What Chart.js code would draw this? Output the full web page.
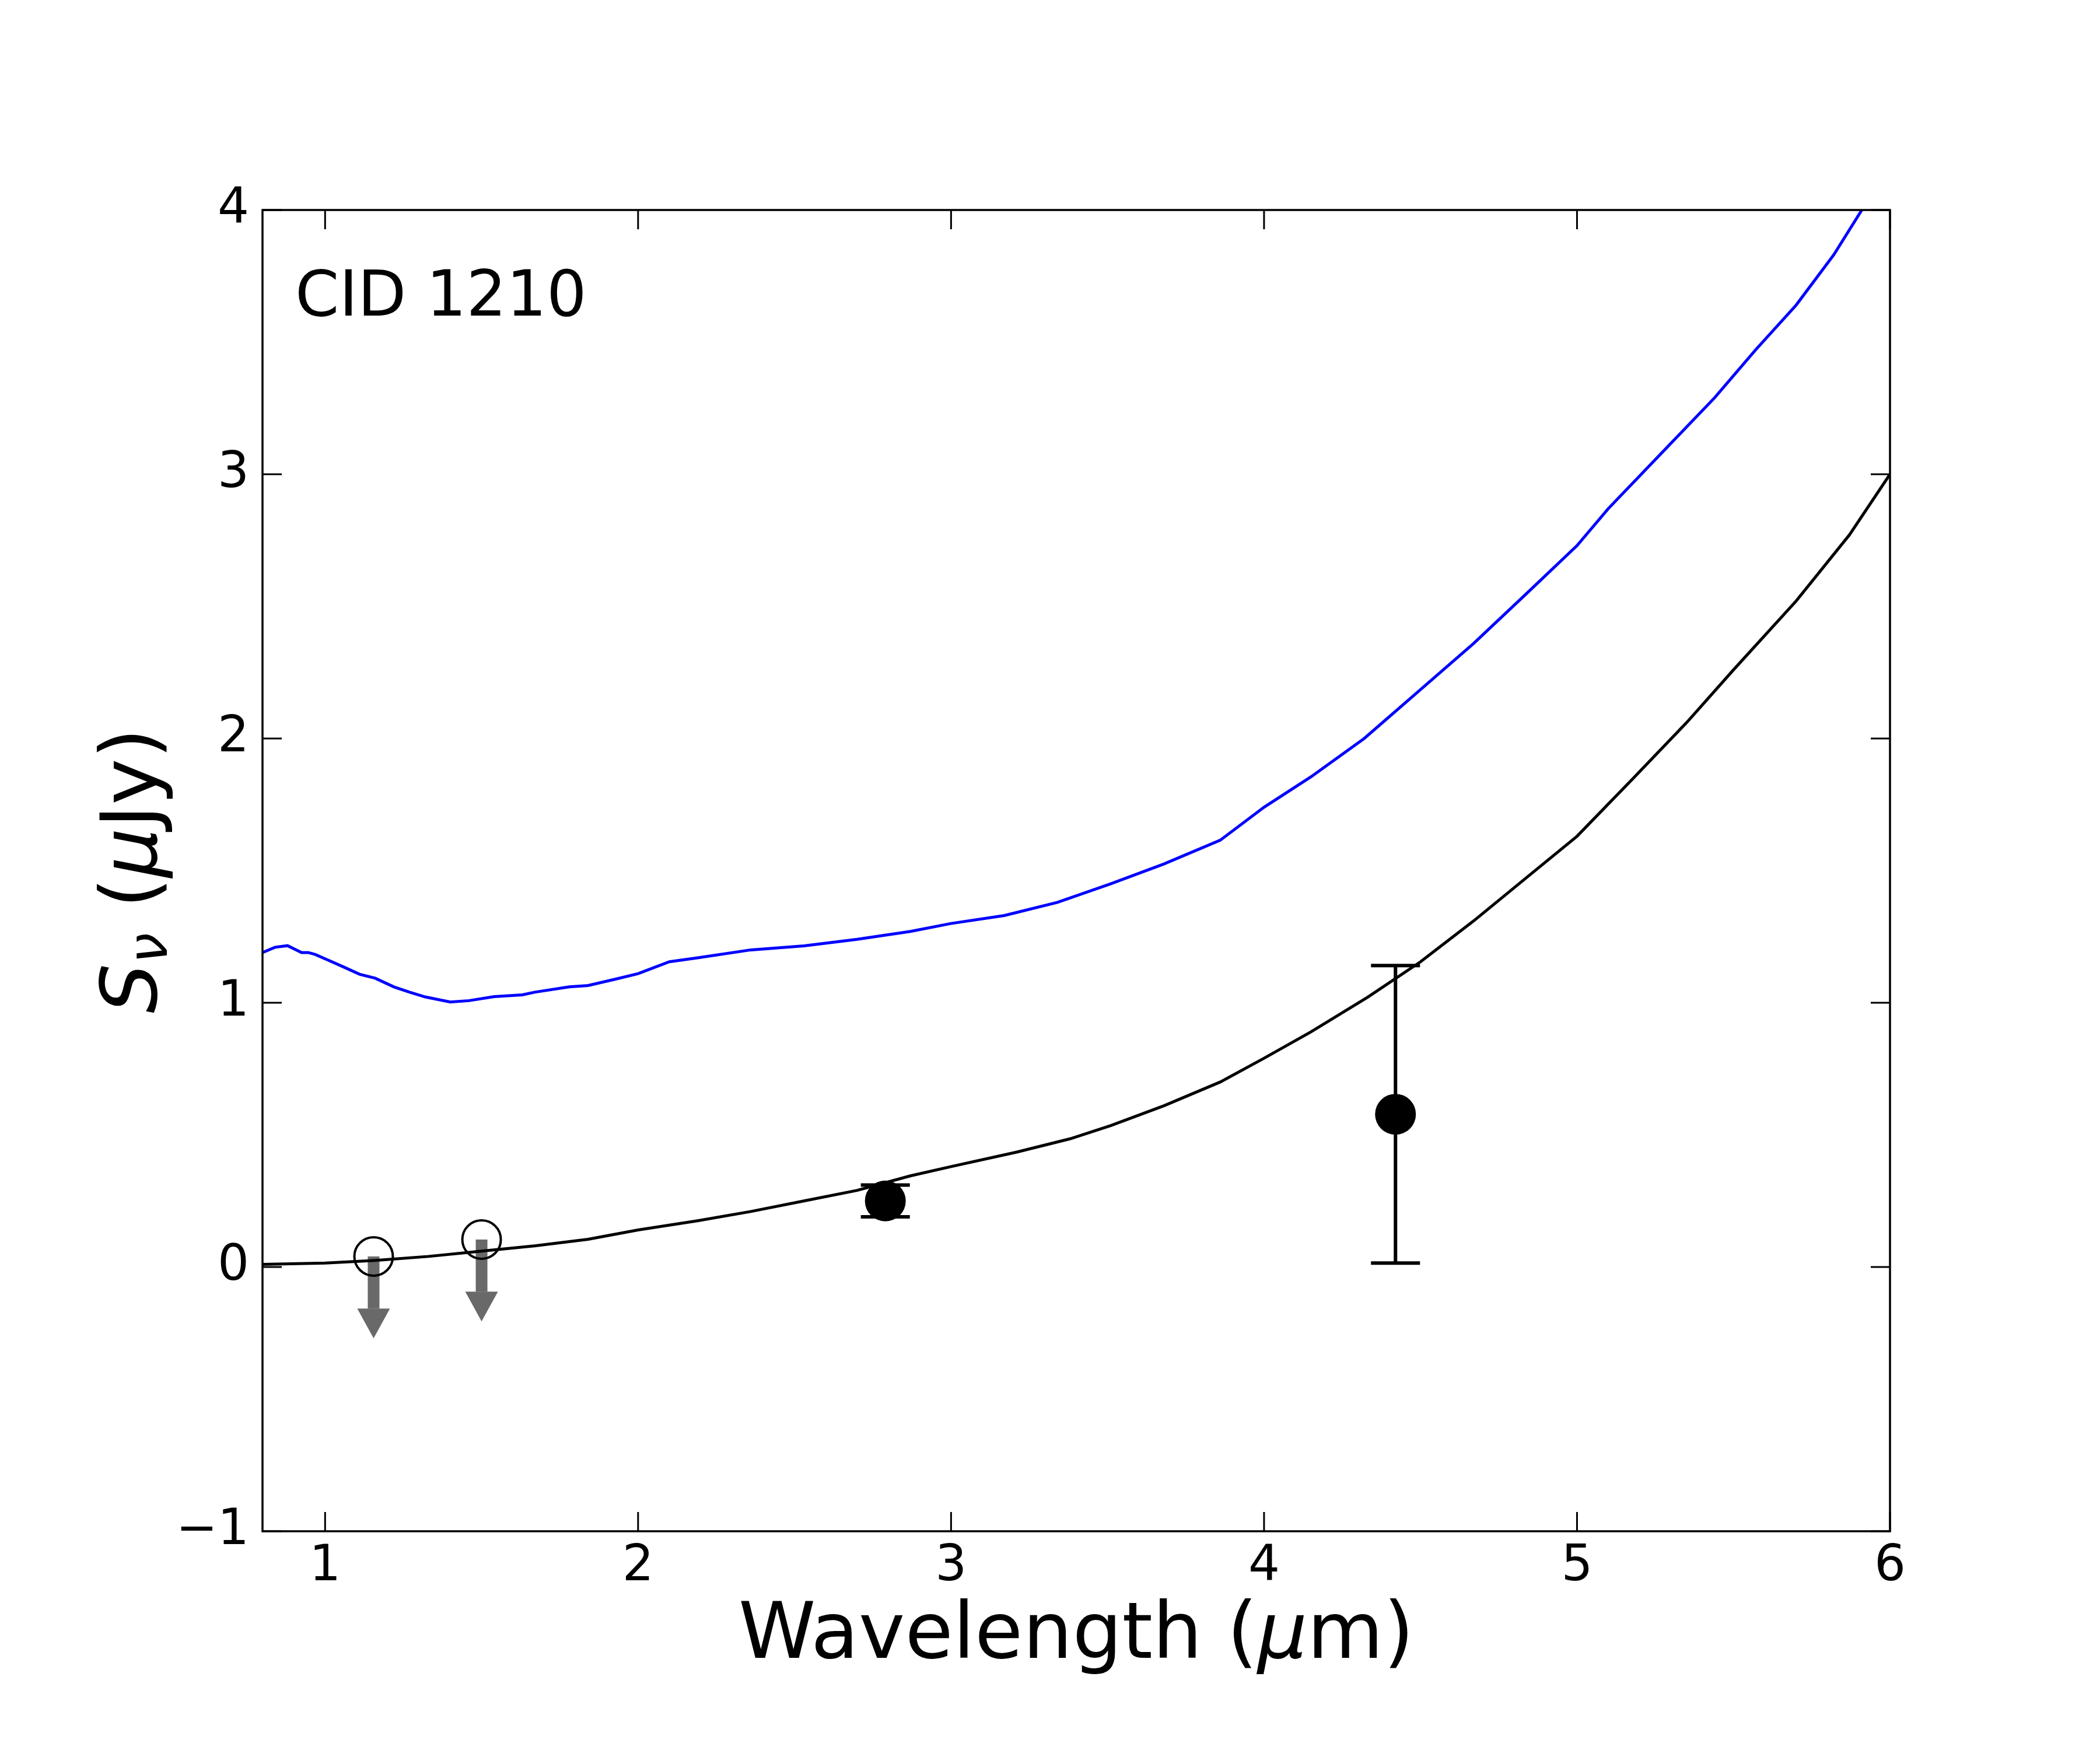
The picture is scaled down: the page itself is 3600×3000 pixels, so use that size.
<!DOCTYPE html>
<html>
<head>
<meta charset="utf-8">
<script src="https://cdn.jsdelivr.net/npm/chart.js@4.4.0/dist/chart.umd.min.js"></script>
<style>
  body { margin: 0; background: #fff; }
  canvas { display: block; }
</style>
</head>
<body>
<canvas id="sedChart" width="3600" height="3000"></canvas>
<script>
// model curves (wavelength in micron, flux in microJy)
var blueWave = [0.80, 0.84, 0.88, 0.925, 0.946, 0.968, 1.01, 1.06, 1.11, 1.16, 1.22, 1.27, 1.32, 1.40, 1.46,
  1.54, 1.63, 1.67, 1.78, 1.84, 1.93, 2.0, 2.10, 2.19, 2.36, 2.53, 2.70, 2.87, 3.0, 3.17, 3.34, 3.51, 3.68,
  3.86, 4.0, 4.15, 4.32, 4.50, 4.67, 4.84, 5.0, 5.10, 5.27, 5.44, 5.57, 5.70, 5.82, 5.91, 6.0];
var blueFlux = [1.19, 1.21, 1.216, 1.19, 1.19, 1.183, 1.161, 1.135, 1.108, 1.093, 1.06, 1.04, 1.022, 1.003, 1.008,
  1.023, 1.03, 1.04, 1.06, 1.065, 1.09, 1.11, 1.155, 1.17, 1.20, 1.215, 1.24, 1.27, 1.30, 1.33, 1.38, 1.45, 1.525,
  1.615, 1.74, 1.855, 2.0, 2.185, 2.36, 2.55, 2.73, 2.87, 3.08, 3.29, 3.47, 3.64, 3.83, 4.0, 4.15];

var blackWave = [0.80, 1.0, 1.16, 1.33, 1.5, 1.67, 1.84, 2.0, 2.19, 2.36, 2.53, 2.70, 2.87, 3.0, 3.21, 3.38,
  3.51, 3.68, 3.86, 4.0, 4.15, 4.33, 4.50, 4.67, 4.84, 5.0, 5.18, 5.35, 5.5, 5.70, 5.87, 6.0];
var blackFlux = [0.01, 0.015, 0.025, 0.04, 0.06, 0.08, 0.105, 0.14, 0.175, 0.21, 0.25, 0.29, 0.345, 0.38, 0.435, 0.485,
  0.535, 0.61, 0.70, 0.79, 0.89, 1.02, 1.155, 1.31, 1.475, 1.63, 1.85, 2.06, 2.26, 2.52, 2.77, 3.0];

// photometry
var detWave = [2.79, 4.42];
var detFlux = [0.25, 0.578];
var detErr = [0.06, 0.563];

var limWave = [1.155, 1.50];
var limFlux = [0.04, 0.104];
var limArrow = 0.31; // arrow length, data units

var xTicks = [1, 2, 3, 4, 5, 6];
var yTicks = [-1, 0, 1, 2, 3, 4];

function pairs(xs, ys) {
  return xs.map(function (x, i) { return { x: x, y: ys[i] }; });
}

var FONT = "'DejaVu Sans', sans-serif";

// draw a run of text pieces with mixed fonts, centred on 0
function drawPieces(ctx, pieces) {
  var total = 0;
  pieces.forEach(function (p) { ctx.font = p.font; p.w = ctx.measureText(p.t).width; total += p.w; });
  var x = -total / 2;
  pieces.forEach(function (p) {
    ctx.font = p.font;
    ctx.fillText(p.t, x, p.dy || 0);
    x += p.w;
  });
}

var extras = {
  id: 'extras',
  beforeDatasetsDraw: function (chart) {
    var ctx = chart.ctx, xs = chart.scales.x, ys = chart.scales.y;
    // upper limit arrows
    ctx.save();
    ctx.fillStyle = '#696969';
    limWave.forEach(function (w, i) {
      var px = xs.getPixelForValue(w);
      var top = ys.getPixelForValue(limFlux[i]);
      var tip = ys.getPixelForValue(limFlux[i] - limArrow);
      var headBase = tip - 51;
      ctx.fillRect(px - 10, top, 20, headBase - top);
      ctx.beginPath();
      ctx.moveTo(px - 28, headBase);
      ctx.lineTo(px + 28, headBase);
      ctx.lineTo(px, tip);
      ctx.closePath();
      ctx.fill();
    });
    ctx.restore();
  },
  afterDatasetsDraw: function (chart) {
    var ctx = chart.ctx, xs = chart.scales.x, ys = chart.scales.y;
    var a = chart.chartArea;
    ctx.save();

    // error bars
    ctx.strokeStyle = '#000';
    ctx.lineWidth = 6;
    detWave.forEach(function (w, i) {
      var px = xs.getPixelForValue(w);
      var hi = ys.getPixelForValue(detFlux[i] + detErr[i]);
      var lo = ys.getPixelForValue(detFlux[i] - detErr[i]);
      ctx.beginPath();
      ctx.moveTo(px, hi); ctx.lineTo(px, lo);
      ctx.moveTo(px - 42, hi); ctx.lineTo(px + 42, hi);
      ctx.moveTo(px - 42, lo); ctx.lineTo(px + 42, lo);
      ctx.stroke();
    });

    // frame and inward ticks on all sides
    ctx.lineWidth = 3.5;
    ctx.strokeRect(a.left, a.top, a.right - a.left, a.bottom - a.top);
    ctx.lineWidth = 3;
    ctx.beginPath();
    xs.ticks.forEach(function (t) {
      var px = xs.getPixelForValue(t.value);
      ctx.moveTo(px, a.bottom); ctx.lineTo(px, a.bottom - 33);
      ctx.moveTo(px, a.top); ctx.lineTo(px, a.top + 33);
    });
    ys.ticks.forEach(function (t) {
      var py = ys.getPixelForValue(t.value);
      ctx.moveTo(a.left, py); ctx.lineTo(a.left + 33, py);
      ctx.moveTo(a.right, py); ctx.lineTo(a.right - 33, py);
    });
    ctx.stroke();

    // label inside the panel
    ctx.fillStyle = '#000';
    ctx.textBaseline = 'alphabetic';
    ctx.textAlign = 'left';
    ctx.font = '108px ' + FONT;
    ctx.fillText('CID 1210', a.left + 56, a.top + 181);

    // axis titles
    var big = '134px ' + FONT, bigIt = 'italic 134px ' + FONT;
    ctx.save();
    ctx.translate((a.left + a.right) / 2, 2842);
    drawPieces(ctx, [
      { t: 'Wavelength (', font: big },
      { t: '\u03bc', font: bigIt },
      { t: 'm)', font: big }
    ]);
    ctx.restore();

    ctx.save();
    ctx.translate(268, (a.top + a.bottom) / 2);
    ctx.rotate(-Math.PI / 2);
    drawPieces(ctx, [
      { t: 'S', font: bigIt },
      { t: '\u03bd', font: 'italic 94px ' + FONT, dy: 18 },
      { t: ' (', font: big },
      { t: '\u03bc', font: bigIt },
      { t: 'Jy)', font: big }
    ]);
    ctx.restore();

    ctx.restore();
  }
};

document.addEventListener('DOMContentLoaded', function () {
  Chart.defaults.font.family = FONT;
  Chart.defaults.color = '#000';

  var ctx = document.getElementById('sedChart').getContext('2d');
  new Chart(ctx, {
    type: 'scatter',
    data: {
      datasets: [
        {
          label: 'detections',
          data: pairs(detWave, detFlux),
          pointRadius: 35,
          pointBackgroundColor: '#000',
          pointBorderWidth: 0,
          showLine: false
        },
        {
          label: 'upper limits',
          data: pairs(limWave, limFlux),
          pointRadius: 33,
          pointBackgroundColor: 'rgba(0,0,0,0)',
          pointBorderColor: '#000',
          pointBorderWidth: 4,
          showLine: false
        },
        {
          label: 'black model',
          data: pairs(blackWave, blackFlux),
          showLine: true,
          borderColor: '#000',
          borderWidth: 5,
          pointRadius: 0,
          tension: 0,
          clip: 0
        },
        {
          label: 'blue model',
          data: pairs(blueWave, blueFlux),
          showLine: true,
          borderColor: '#0000ff',
          borderWidth: 5,
          pointRadius: 0,
          tension: 0,
          clip: 0
        }
      ]
    },
    options: {
      responsive: false,
      animation: false,
      devicePixelRatio: 1,
      layout: { padding: { left: 0, top: 360, right: 360, bottom: 0 } },
      plugins: {
        legend: { display: false },
        tooltip: { enabled: false }
      },
      scales: {
        x: {
          type: 'linear',
          min: 0.8,
          max: 6,
          grid: { display: false, drawTicks: false },
          border: { display: false },
          afterBuildTicks: function (s) { s.ticks = xTicks.map(function (v) { return { value: v }; }); },
          afterFit: function (s) { s.height = 375; },
          ticks: {
            padding: 11,
            font: { size: 85 },
            callback: function (v) { return v < 0 ? '\u2212' + Math.abs(v) : String(v); }
          }
        },
        y: {
          type: 'linear',
          min: -1,
          max: 4,
          grid: { display: false, drawTicks: false },
          border: { display: false },
          afterBuildTicks: function (s) { s.ticks = yTicks.map(function (v) { return { value: v }; }); },
          afterFit: function (s) { s.width = 450; },
          ticks: {
            padding: 23,
            font: { size: 85 },
            callback: function (v) { return v < 0 ? '\u2212' + Math.abs(v) : String(v); }
          }
        }
      }
    },
    plugins: [extras]
  });
});
</script>
</body>
</html>
